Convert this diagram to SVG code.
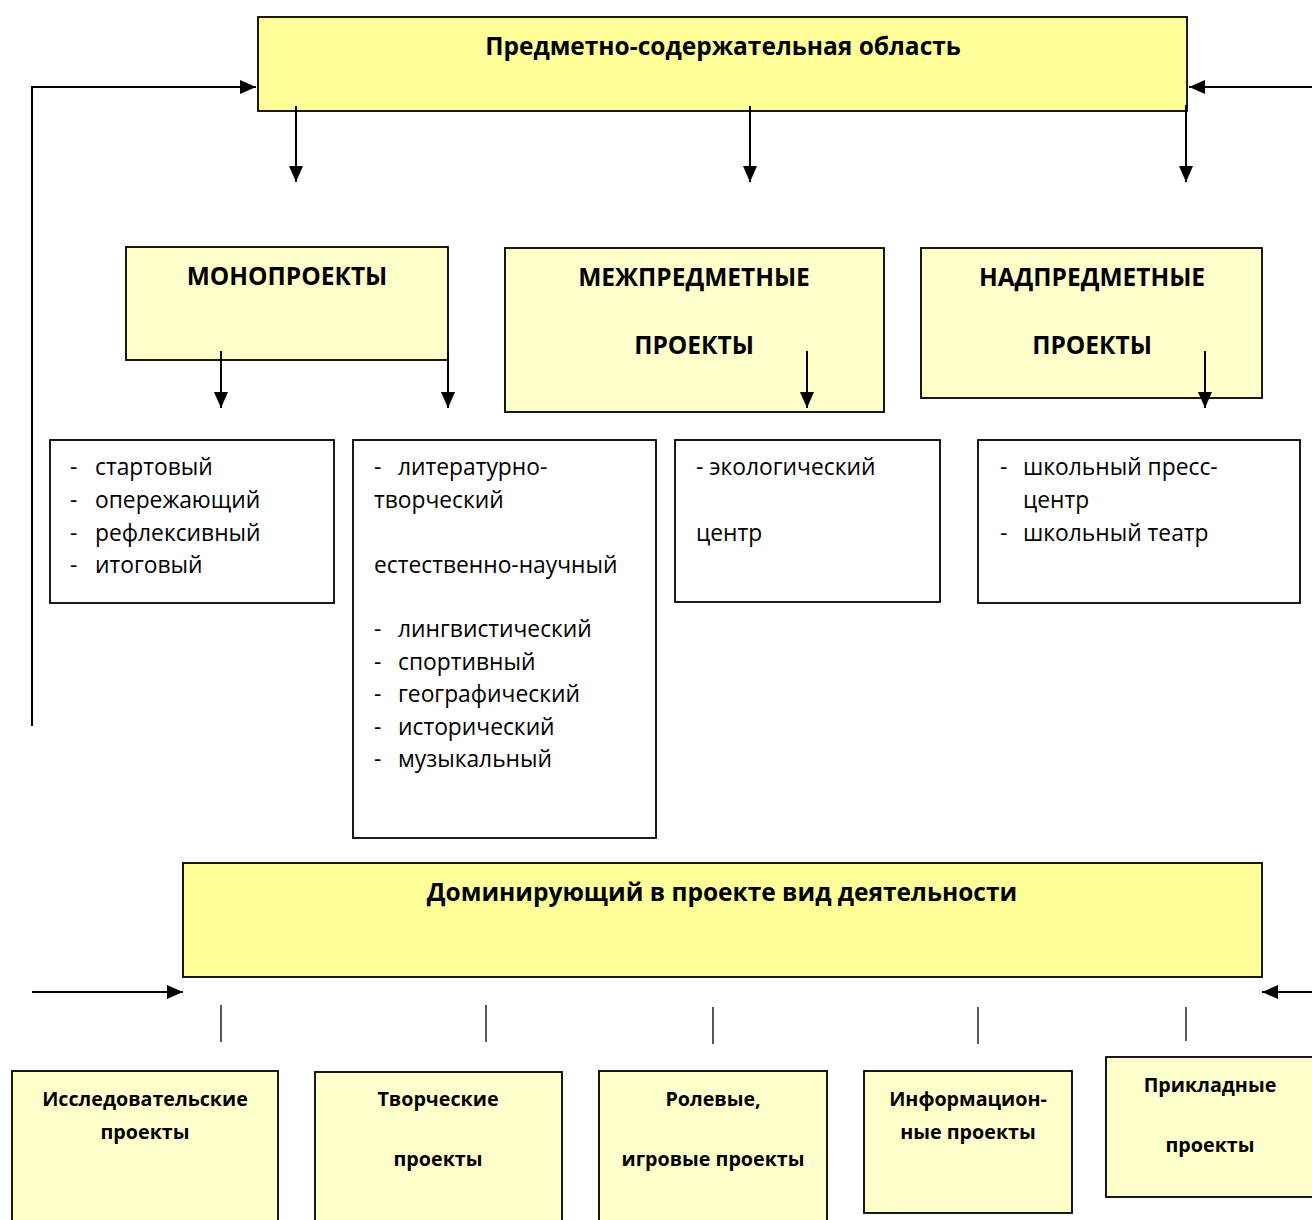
<svg xmlns="http://www.w3.org/2000/svg" width="1312" height="1220" viewBox="0 0 1312 1220">
<defs>
<marker id="ahb" viewBox="0 0 16 14" refX="16" refY="7" markerWidth="16" markerHeight="14" markerUnits="userSpaceOnUse" orient="auto">
<path d="M0,0 L16,7 L0,14 Z" fill="#000"/>
</marker>
</defs>
<style>
.hdr{fill:#FFFF99;stroke:#000;stroke-width:1.8}
.yel{fill:#FFFFCC;stroke:#000;stroke-width:1.8}
.wht{fill:#FFFFFF;stroke:#000;stroke-width:1.8}
.t{font-family:"Open Sans","Noto Sans","Liberation Sans",sans-serif;fill:#000}
.b{font-weight:bold}
.big{font-size:24.5px}
.lst{font-size:22.8px}
.sm{font-size:19.7px}
.c{text-anchor:middle}
.ln{fill:none;stroke:#000;stroke-width:2}
.tk{fill:none;stroke:#000;stroke-width:1.3}
</style>
<rect width="1312" height="1220" fill="#fff"/>

<g id="subject-area">
<rect class="hdr" x="258" y="17" width="929" height="94"/>
<text class="t b big c" x="723" y="55">Предметно-содержательная область</text>
</g>

<g id="mono">
<rect class="yel" x="126" y="247" width="322" height="113"/>
<text class="t b big c" x="287" y="285">МОНОПРОЕКТЫ</text>
</g>

<g id="inter">
<rect class="yel" x="505" y="248" width="379" height="164"/>
<text class="t b big c" x="694" y="286">МЕЖПРЕДМЕТНЫЕ</text>
<text class="t b big c" x="694" y="354">ПРОЕКТЫ</text>
</g>

<g id="supra">
<rect class="yel" x="921" y="248" width="341" height="150"/>
<text class="t b big c" x="1092" y="286">НАДПРЕДМЕТНЫЕ</text>
<text class="t b big c" x="1092" y="354">ПРОЕКТЫ</text>
</g>

<g id="list-mono">
<rect class="wht" x="50" y="440" width="284" height="163"/>
<g class="t lst">
<text x="70" y="475">-</text><text x="95" y="475">стартовый</text>
<text x="70" y="508">-</text><text x="95" y="508">опережающий</text>
<text x="70" y="541">-</text><text x="95" y="541">рефлексивный</text>
<text x="70" y="573">-</text><text x="95" y="573">итоговый</text>
</g>
</g>

<g id="list-inter">
<rect class="wht" x="353" y="440" width="303" height="398"/>
<g class="t lst">
<text x="374" y="475">-</text><text x="398" y="475">литературно-</text>
<text x="374" y="508">творческий</text>
<text x="374" y="573">естественно-научный</text>
<text x="374" y="637">-</text><text x="398" y="637">лингвистический</text>
<text x="374" y="670">-</text><text x="398" y="670">спортивный</text>
<text x="374" y="702">-</text><text x="398" y="702">географический</text>
<text x="374" y="735">-</text><text x="398" y="735">исторический</text>
<text x="374" y="767">-</text><text x="398" y="767">музыкальный</text>
</g>
</g>

<g id="list-eco">
<rect class="wht" x="675" y="440" width="265" height="162"/>
<g class="t lst">
<text x="696" y="475">- экологический</text>
<text x="696" y="541">центр</text>
</g>
</g>

<g id="list-supra">
<rect class="wht" x="978" y="440" width="322" height="163"/>
<g class="t lst">
<text x="1000" y="475">-</text><text x="1023" y="475">школьный пресс-</text>
<text x="1023" y="508">центр</text>
<text x="1000" y="541">-</text><text x="1023" y="541">школьный театр</text>
</g>
</g>

<g id="activity">
<rect class="hdr" x="183" y="863" width="1079" height="114"/>
<text class="t b big c" x="722" y="901">Доминирующий в проекте вид деятельности</text>
</g>

<g id="research">
<rect class="yel" x="12" y="1071" width="266" height="160"/>
<text class="t b sm c" x="145" y="1106">Исследовательские</text>
<text class="t b sm c" x="145" y="1139">проекты</text>
</g>

<g id="creative">
<rect class="yel" x="315" y="1072" width="247" height="160"/>
<text class="t b sm c" x="438" y="1106">Творческие</text>
<text class="t b sm c" x="438" y="1166">проекты</text>
</g>

<g id="role">
<rect class="yel" x="599" y="1071" width="228" height="160"/>
<text class="t b sm c" x="713" y="1106">Ролевые,</text>
<text class="t b sm c" x="713" y="1166">игровые проекты</text>
</g>

<g id="info">
<rect class="yel" x="864" y="1071" width="208" height="142"/>
<text class="t b sm c" x="968" y="1106">Информацион-</text>
<text class="t b sm c" x="968" y="1139">ные проекты</text>
</g>

<g id="applied">
<rect class="yel" x="1106" y="1057" width="220" height="140"/>
<text class="t b sm c" x="1210" y="1092">Прикладные</text>
<text class="t b sm c" x="1210" y="1152">проекты</text>
</g>

<g id="connectors">
<path class="ln" d="M32,726 V87 H256" marker-end="url(#ahb)"/>
<path class="ln" d="M1312,87 H1189" marker-end="url(#ahb)"/>
<path class="ln" d="M296,106 V182" marker-end="url(#ahb)"/>
<path class="ln" d="M750,106 V182" marker-end="url(#ahb)"/>
<path class="ln" d="M1186,105 V182" marker-end="url(#ahb)"/>
<path class="ln" d="M221,351 V408" marker-end="url(#ahb)"/>
<path class="ln" d="M448,351 V408" marker-end="url(#ahb)"/>
<path class="ln" d="M807,351 V408" marker-end="url(#ahb)"/>
<path class="ln" d="M1205,351 V408" marker-end="url(#ahb)"/>
<path class="ln" d="M32,992 H183" marker-end="url(#ahb)"/>
<path class="ln" d="M1312,992 H1262" marker-end="url(#ahb)"/>
<path class="tk" d="M221,1005 V1042 M486,1005 V1042 M713,1007 V1044 M978,1007 V1044 M1186,1007 V1041"/>
</g>
</svg>
